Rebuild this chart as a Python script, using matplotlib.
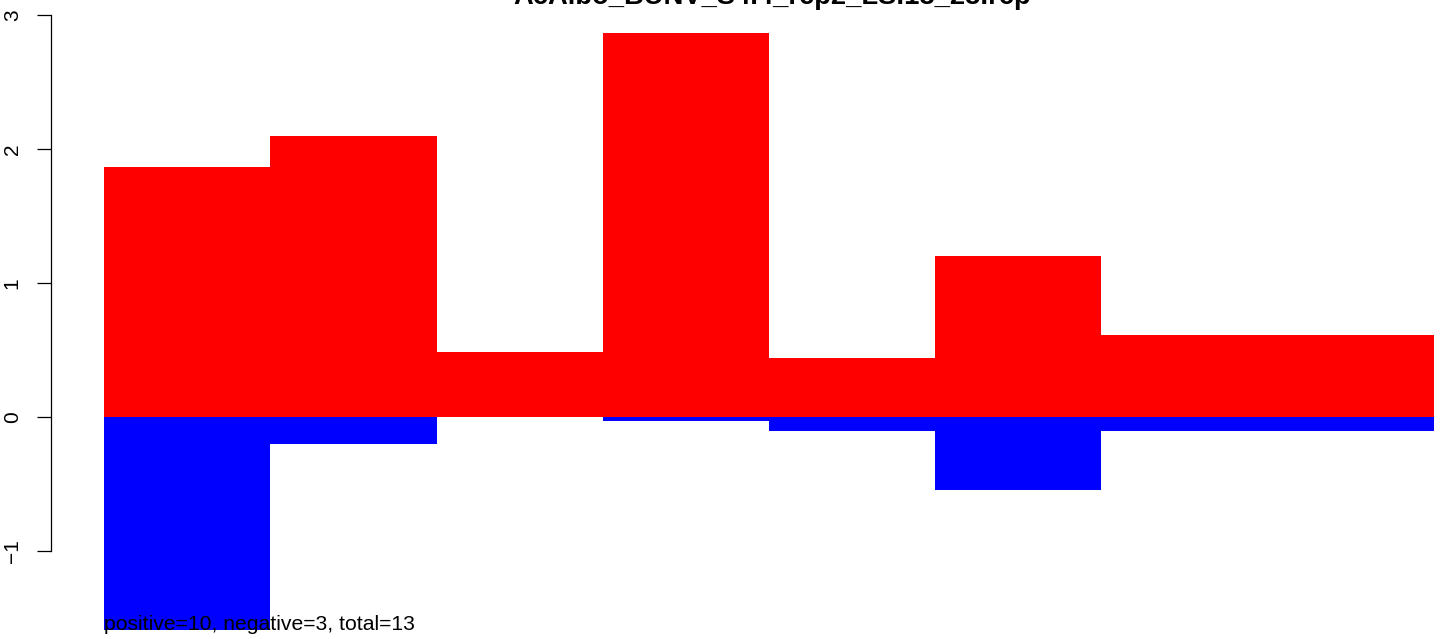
import numpy as np
import matplotlib
matplotlib.use('Agg')
import matplotlib.pyplot as plt

plt.rcParams['font.family'] = ['Liberation Sans', 'DejaVu Sans']

title = 'AcAlbo_BUNV_S4.4_rep2_LS.18_23.rcp'
positive = [1.866, 2.097, 0.485, 2.866, 0.44, 1.20, 0.612, 0.612]
negative = [-1.59, -0.20, 0.0, -0.03, -0.104, -0.545, -0.104, -0.104]
yticks = [-1, 0, 1, 2, 3]
ytick_labels = ['\u22121', '0', '1', '2', '3']
note = 'positive=10, negative=3, total=13'

W, H = 1444, 639
fig = plt.figure(figsize=(W / 100, H / 100), dpi=100)

# plot region runs past the right edge of the figure, like the cropped R plot
left_px, right_px = 51, 1487
ax = fig.add_axes([left_px / W, 0, (right_px - left_px) / W, 1])

x = np.arange(len(positive)) + 0.5
ax.bar(x, positive, width=1.0, color='#ff0000', linewidth=0)
ax.bar(x, negative, width=1.0, color='#0000ff', linewidth=0)

ax.set_xlim(-0.32, 8.32)
ax.set_ylim(-1.657, 3.112)

for s in ['top', 'right', 'bottom']:
    ax.spines[s].set_visible(False)
ax.spines['left'].set_bounds(-1, 3)
ax.spines['left'].set_linewidth(0.9)
ax.set_xticks([])
ax.set_yticks(yticks)
ax.set_yticklabels(ytick_labels, rotation=90, va='center', fontsize=15)
ax.tick_params(axis='y', length=10, width=0.9, pad=11)

fig.text(772 / W, 1 - 4 / H, title, ha='center', va='baseline',
         fontsize=19.7, fontweight='bold')
ax.text(0, -1.59, note, ha='left', va='baseline', fontsize=15.2, zorder=5)

fig.savefig('out.png', dpi=100)
